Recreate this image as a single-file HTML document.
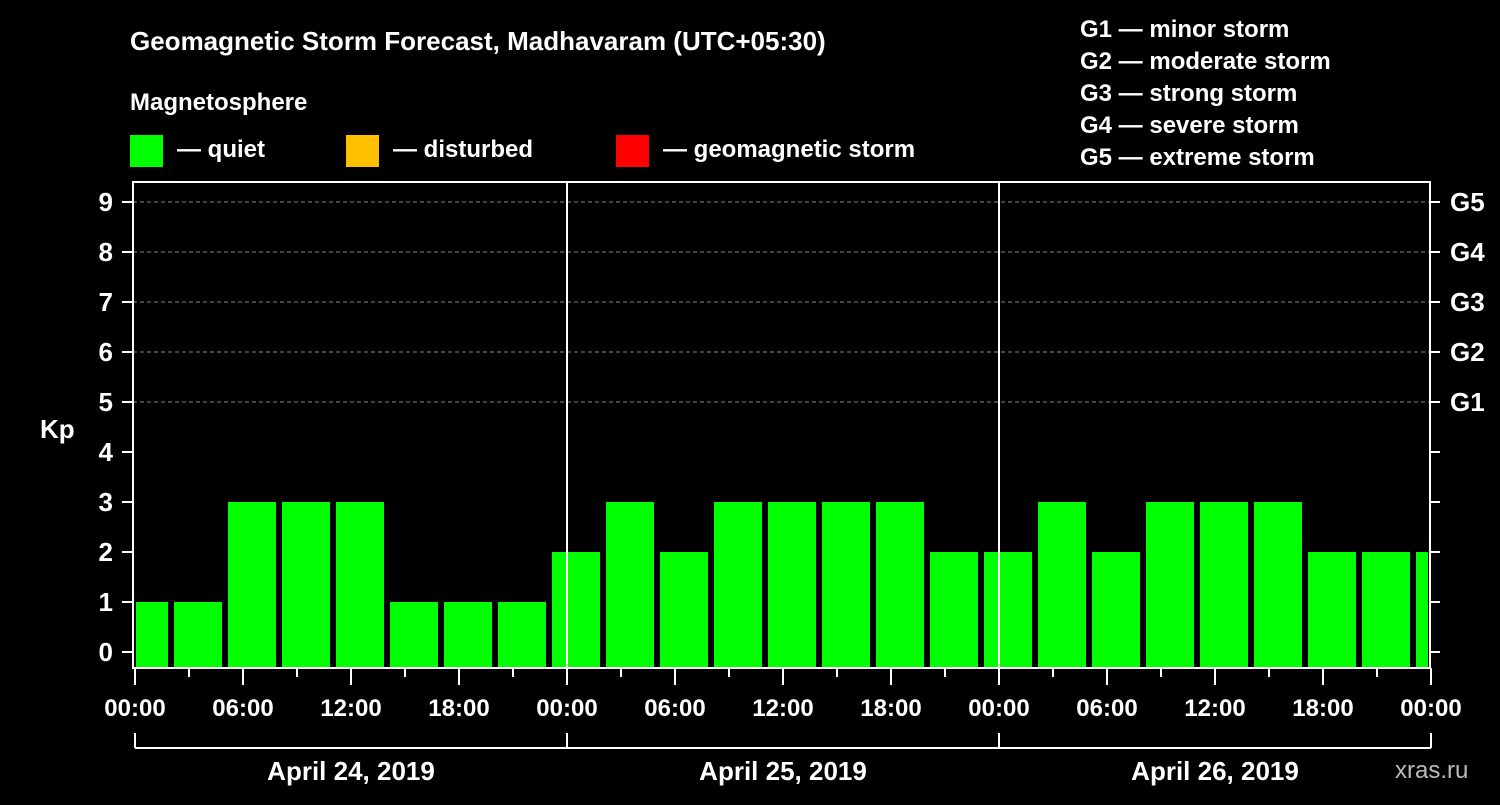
<!DOCTYPE html>
<html><head><meta charset="utf-8"><style>
body{margin:0;background:#000;}
svg text{font-family:"Liberation Sans",sans-serif;font-weight:bold;fill:#fff;}
</style></head><body>
<svg id="c" width="1500" height="800" xmlns="http://www.w3.org/2000/svg">
<rect width="1500" height="800" fill="#000"/>
<text x="130" y="50" font-size="26">Geomagnetic Storm Forecast, Madhavaram (UTC+05:30)</text>
<text x="130" y="110" font-size="24">Magnetosphere</text>
<rect x="130" y="135" width="33" height="32" fill="#00ff00"/>
<text x="177" y="157" font-size="24">— quiet</text>
<rect x="346" y="135" width="33" height="32" fill="#ffc000"/>
<text x="393" y="157" font-size="24">— disturbed</text>
<rect x="616" y="135" width="33" height="32" fill="#ff0000"/>
<text x="663" y="157" font-size="24">— geomagnetic storm</text>
<g font-size="24">
<text x="1080" y="37">G1 — minor storm</text>
<text x="1080" y="69">G2 — moderate storm</text>
<text x="1080" y="101">G3 — strong storm</text>
<text x="1080" y="133">G4 — severe storm</text>
<text x="1080" y="165">G5 — extreme storm</text>
</g>
<text x="40" y="438" font-size="26">Kp</text>
<text x="1395" y="778" font-size="24" fill="#aaa" style="fill:#bbb;font-weight:normal">xras.ru</text>
<g id="plot"></g>
</svg>
<script>
const kpValues=[1,1,3,3,3,1,1,1,2,3,2,3,3,3,3,2,2,3,2,3,3,3,2,2,2];
const startHour=-1;
const dayLabels=["April 24, 2019","April 25, 2019","April 26, 2019"];
const hourLabels=["00:00","06:00","12:00","18:00"];
const gLabels=["G1","G2","G3","G4","G5"];
const L=133,R=1430,T=182,B=668;
const x=h=>L+2+h*18;
const y=k=>652-50*k;
const g=document.getElementById('plot');
const NS="http://www.w3.org/2000/svg";
function mk(t,a){const e=document.createElementNS(NS,t);for(const k in a)e.setAttribute(k,a[k]);g.appendChild(e);return e;}
// grid
for(let k=5;k<=9;k++){const e=mk('line',{x1:L,x2:R,y1:y(k),y2:y(k),stroke:'#888','stroke-dasharray':'4,3','stroke-width':1});

}
// bars
kpValues.forEach((v,i)=>{let x0=x(startHour+3*i)+3,x1=x(startHour+3*i+3)-3;
x0=Math.max(x0,L+3);x1=Math.min(x1,R-2);
const c=v>=5?'#ff0000':v>=4?'#ffc000':'#00ff00';
const e=mk('rect',{x:x0,y:y(v),width:x1-x0,height:B-y(v),fill:c});

});
// day separators
for(let d=1;d<3;d++){const e=mk('line',{x1:x(24*d),x2:x(24*d),y1:T,y2:B,stroke:'#fff','stroke-width':2});

}
// frame
const f=mk('rect',{x:L,y:T,width:R-L,height:B-T,fill:'none',stroke:'#fff','stroke-width':2});


// y ticks
for(let k=0;k<=9;k++){mk('line',{x1:L-11,x2:L,y1:y(k),y2:y(k),stroke:'#fff','stroke-width':2});
mk('line',{x1:R,x2:R+10,y1:y(k),y2:y(k),stroke:'#fff','stroke-width':2});
const t=mk('text',{x:L-20,y:y(k)+9,'font-size':26,'text-anchor':'end'});t.textContent=k;

}
gLabels.forEach((s,i)=>{const t=mk('text',{x:R+20,y:y(5+i)+9,'font-size':26});t.textContent=s;

});
// x ticks
for(let h=0;h<=72;h+=3){const major=h%6==0;mk('line',{x1:x(h),x2:x(h),y1:B,y2:B+(major?17:9),stroke:'#fff','stroke-width':2});
if(major){const t=mk('text',{x:x(h),y:B+48,'font-size':24,'text-anchor':'middle'});t.textContent=hourLabels[(h/6)%4];

}}
// date brackets
mk('line',{x1:x(0),x2:x(72),y1:748,y2:748,stroke:'#fff','stroke-width':2});
for(let d=0;d<=3;d++)mk('line',{x1:x(24*d),x2:x(24*d),y1:733,y2:748,stroke:'#fff','stroke-width':2});
dayLabels.forEach((s,d)=>{const t=mk('text',{x:x(24*d+12),y:780,'font-size':26,'text-anchor':'middle'});t.textContent=s;

});
</script>
</body></html>
